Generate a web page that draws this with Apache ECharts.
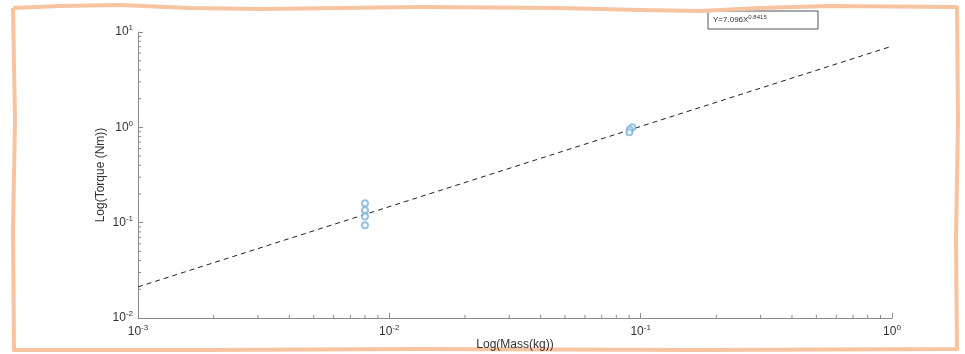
<!DOCTYPE html>
<html>
<head>
<meta charset="utf-8">
<script src="https://cdn.jsdelivr.net/npm/echarts@6/dist/echarts.min.js"></script>
<style>
  html, body { margin: 0; padding: 0; background: #fff; }
  #chart { width: 965px; height: 354px; }
</style>
</head>
<body>
<div id="chart"></div>
<script>
// measured points (mass kg, torque Nm)
var massData = [0.008, 0.008, 0.008, 0.008, 0.0927, 0.0905, 0.0902];
var torqueData = [0.16, 0.135, 0.116, 0.094, 1.0, 0.95, 0.89];
// fitted line end points: Y = 7.096 X^0.8415
var fitMass = [0.001, 1];
var fitTorque = [0.0212, 7.1];
var fitLabel = "Y=7.096X";
var fitExp = "0.8415";
// minor tick positions
var xMinor = [0.002, 0.003, 0.004, 0.005, 0.006, 0.007, 0.008, 0.009,
  0.02, 0.03, 0.04, 0.05, 0.06, 0.07, 0.08, 0.09,
  0.2, 0.3, 0.4, 0.5, 0.6, 0.7, 0.8, 0.9];
var yMinor = [0.02, 0.03, 0.04, 0.05, 0.06, 0.07, 0.08, 0.09,
  0.2, 0.3, 0.4, 0.5, 0.6, 0.7, 0.8, 0.9,
  2, 3, 4, 5, 6, 7, 8, 9];

var chart = echarts.init(document.getElementById("chart"));

var pts = massData.map(function (m, i) { return [m, torqueData[i]]; });
var fit = fitMass.map(function (m, i) { return [m, fitTorque[i]]; });
var tickData = xMinor.map(function (v) { return [v, 0.01, 0]; })
  .concat(yMinor.map(function (v) { return [0.001, v, 1]; }));

function powLabel(value) {
  var e = Math.round(Math.log10(value));
  return "{b|10}{s|" + e + "}";
}
var rich = {
  b: { fontSize: 12, color: "#333", fontFamily: "Liberation Sans" },
  s: { fontSize: 8, color: "#333", fontFamily: "Liberation Sans", verticalAlign: "top", padding: [0, 0, 8, 0] }
};
var axisCol = "#8c8c8c";

var option = {
  animation: false,
  backgroundColor: "#fff",
  grid: { left: 138, right: 73, top: 32, bottom: 36, outerBoundsMode: "none", containLabel: false },
  xAxis: {
    type: "log",
    logBase: 10,
    min: 0.001,
    max: 1,
    name: "Log(Mass(kg))",
    nameLocation: "middle",
    nameGap: 21,
    nameMoveOverlap: false,
    nameTextStyle: { fontSize: 12, color: "#333", fontFamily: "Liberation Sans" },
    axisLine: { lineStyle: { color: axisCol } },
    axisTick: { inside: true, length: 5, lineStyle: { color: axisCol } },
    splitLine: { show: false },
    axisLabel: { formatter: powLabel, rich: rich, margin: 6 }
  },
  yAxis: {
    type: "log",
    logBase: 10,
    min: 0.01,
    max: 10,
    name: "Log(Torque (Nm))",
    nameLocation: "middle",
    nameGap: 31,
    nameMoveOverlap: false,
    nameTextStyle: { fontSize: 12, color: "#333", fontFamily: "Liberation Sans" },
    axisLine: { show: true, lineStyle: { color: axisCol } },
    axisTick: { show: true, inside: true, length: 5, lineStyle: { color: axisCol } },
    splitLine: { show: false },
    axisLabel: { formatter: powLabel, rich: rich, margin: 5 }
  },
  series: [
    {
      type: "custom",
      data: tickData,
      silent: true,
      clip: false,
      renderItem: function (params, api) {
        var p = api.coord([api.value(0), api.value(1)]);
        var vert = api.value(2) === 0;
        return {
          type: "line",
          shape: vert
            ? { x1: p[0], y1: p[1], x2: p[0], y2: p[1] - 3 }
            : { x1: p[0], y1: p[1], x2: p[0] + 3, y2: p[1] },
          style: { stroke: axisCol, lineWidth: 1 }
        };
      }
    },
    {
      type: "line",
      data: fit,
      symbol: "none",
      lineStyle: { color: "#222", width: 1, type: [5, 4] },
      z: 3
    },
    {
      type: "scatter",
      data: pts,
      symbol: "emptyCircle",
      symbolSize: 6,
      itemStyle: { color: "#7ab4dc", borderWidth: 0.8 },
      z: 4
    }
  ],
  graphic: [
    {
      type: "rect",
      shape: { x: 708, y: 11, width: 110, height: 18 },
      style: { fill: "#fff", stroke: "#555", lineWidth: 1 }
    },
    {
      type: "text",
      left: 713,
      top: 14,
      style: {
        text: "{m|" + fitLabel + "}{e|" + fitExp + "}",
        rich: {
          m: { fontSize: 8, fill: "#333", fontFamily: "Liberation Sans" },
          e: { fontSize: 6, fill: "#333", fontFamily: "Liberation Sans", verticalAlign: "top", padding: [0, 0, 5, 0] }
        }
      }
    },
    {
      type: "polyline",
      silent: true,
      shape: {
        points: [[13, 8], [60, 6], [120, 5], [190, 8], [260, 9], [340, 8], [420, 7], [560, 8], [640, 10], [700, 11],
          [760, 8], [830, 6], [957, 7], [958, 120], [956, 240], [957, 349],
          [700, 350], [420, 349], [200, 350], [14, 350], [13, 230], [15, 120], [13, 8]]
      },
      style: { stroke: "#f6c4a0", lineWidth: 4, fill: null, lineJoin: "round" }
    }
  ]
};

chart.setOption(option);
</script>
</body>
</html>
